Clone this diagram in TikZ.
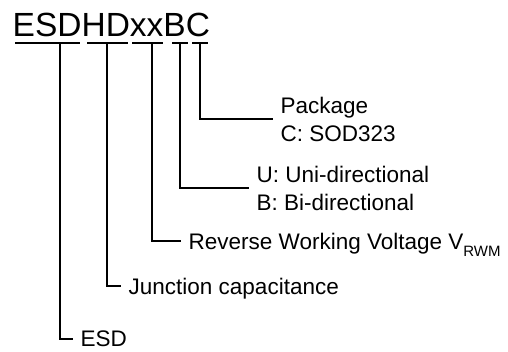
\documentclass[tikz,border=0pt]{standalone}
\usepackage{fontspec}
\setmainfont{Liberation Sans}
\usetikzlibrary{positioning}

\tikzset{
  lbl/.style={anchor=west, inner sep=0pt, text depth=0pt, align=left,
    font=\fontsize{22.5}{28}\selectfont},
  leader/.style={line width=1.8pt, shorten >=8pt},
  uline/.style={line width=1.8pt},
}

\begin{document}
\begin{tikzpicture}[x=1pt, y=-1pt]
    \useasboundingbox (0,0) rectangle (508,352);
    \node[anchor=base west, inner sep=0pt, font=\fontsize{33.5}{40}\selectfont] (code) at (12.5,37) {ESDHDxxBC};
    % one underline per field of the part number
    \foreach \a/\b in {15/80, 87/128, 132/163, 172/188, 192/208}
        \draw[uline] (\a,43) -- (\b,43);
    \coordinate (tEsd) at (60,43);
    \coordinate (tCap) at (107,43);
    \coordinate (tVrwm) at (152,43);
    \coordinate (tDir) at (180,43);
    \coordinate (tPkg) at (200,43);
    \node[lbl] (lEsd) at (80.5,339) {ESD};
    \node[lbl] (lCap) at (128.5,286) {Junction capacitance};
    \node[lbl] (lVrwm) at (188.5,241) {Reverse Working Voltage V\raisebox{-7pt}{\fontsize{15}{15}\selectfont RWM}};
    \node[lbl] (lDir) at (256.5,188) {U: Uni-directional\\B: Bi-directional};
    \node[lbl] (lPkg) at (280.5,119) {Package\\C: SOD323};
    \draw[leader] (tEsd) |- (lEsd.west);
    \draw[leader] (tCap) |- (lCap.west);
    \draw[leader] (tVrwm) |- (lVrwm.west);
    \draw[leader] (tDir) |- (lDir.west);
    \draw[leader] (tPkg) |- (lPkg.west);
\end{tikzpicture}
\end{document}
